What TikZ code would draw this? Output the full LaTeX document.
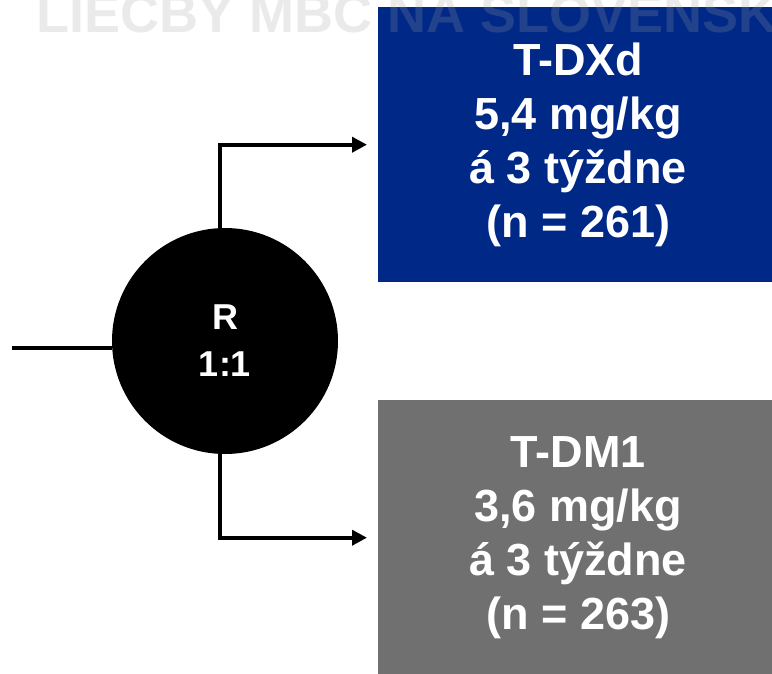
\documentclass[tikz,border=0pt]{standalone}
\usepackage{fontspec}
\setmainfont{Liberation Sans}
\usepackage{xcolor}
\usetikzlibrary{arrows.meta,positioning}
\definecolor{armblue}{RGB}{0,40,135}
\definecolor{armgray}{RGB}{112,112,112}

\begin{document}
\begin{tikzpicture}[x=1pt,y=-1pt,font=\bfseries,
    armbox/.style={minimum width=400pt,minimum height=275pt,inner sep=0pt,
      align=center,text=white,font=\bfseries\fontsize{45}{54}\selectfont},
    flow/.style={line width=4pt,-{Triangle[length=15pt,width=15pt]}}]
  \useasboundingbox (0,0) rectangle (772,673);
  \clip (0,0) rectangle (772,673);
  \node[circle,fill=black,minimum size=226pt,inner sep=0pt,text=white,align=center,
    font=\bfseries\fontsize{36}{47}\selectfont] (rand) at (225,341) {R\\1:1};
  \node[armbox,fill=armblue,anchor=north west] (txd) at (378,7)
    {T-DXd\\5,4 mg/kg\\á 3 týždne\\(n = 261)};
  \node[armbox,fill=armgray,anchor=north west] (tdm) at (378,400)
    {T-DM1\\3,6 mg/kg\\á 3 týždne\\(n = 263)};
  \coordinate (entry) at (12,348);
  \draw[line width=4pt] (entry) -- (entry -| rand.west);
  \foreach \arm/\side in {txd/north, tdm/south}{
    \draw[flow] ([xshift=-5pt]rand.\side) |- ([xshift=-11pt]\arm.west);
  }
  \node[anchor=base west,inner sep=0pt,text=gray!75,opacity=0.22,
    font=\bfseries\fontsize{54}{54}\selectfont] (mark) at (36,32)
    {LIEČBY MBC NA SLOVENSKU};
\end{tikzpicture}
\end{document}
